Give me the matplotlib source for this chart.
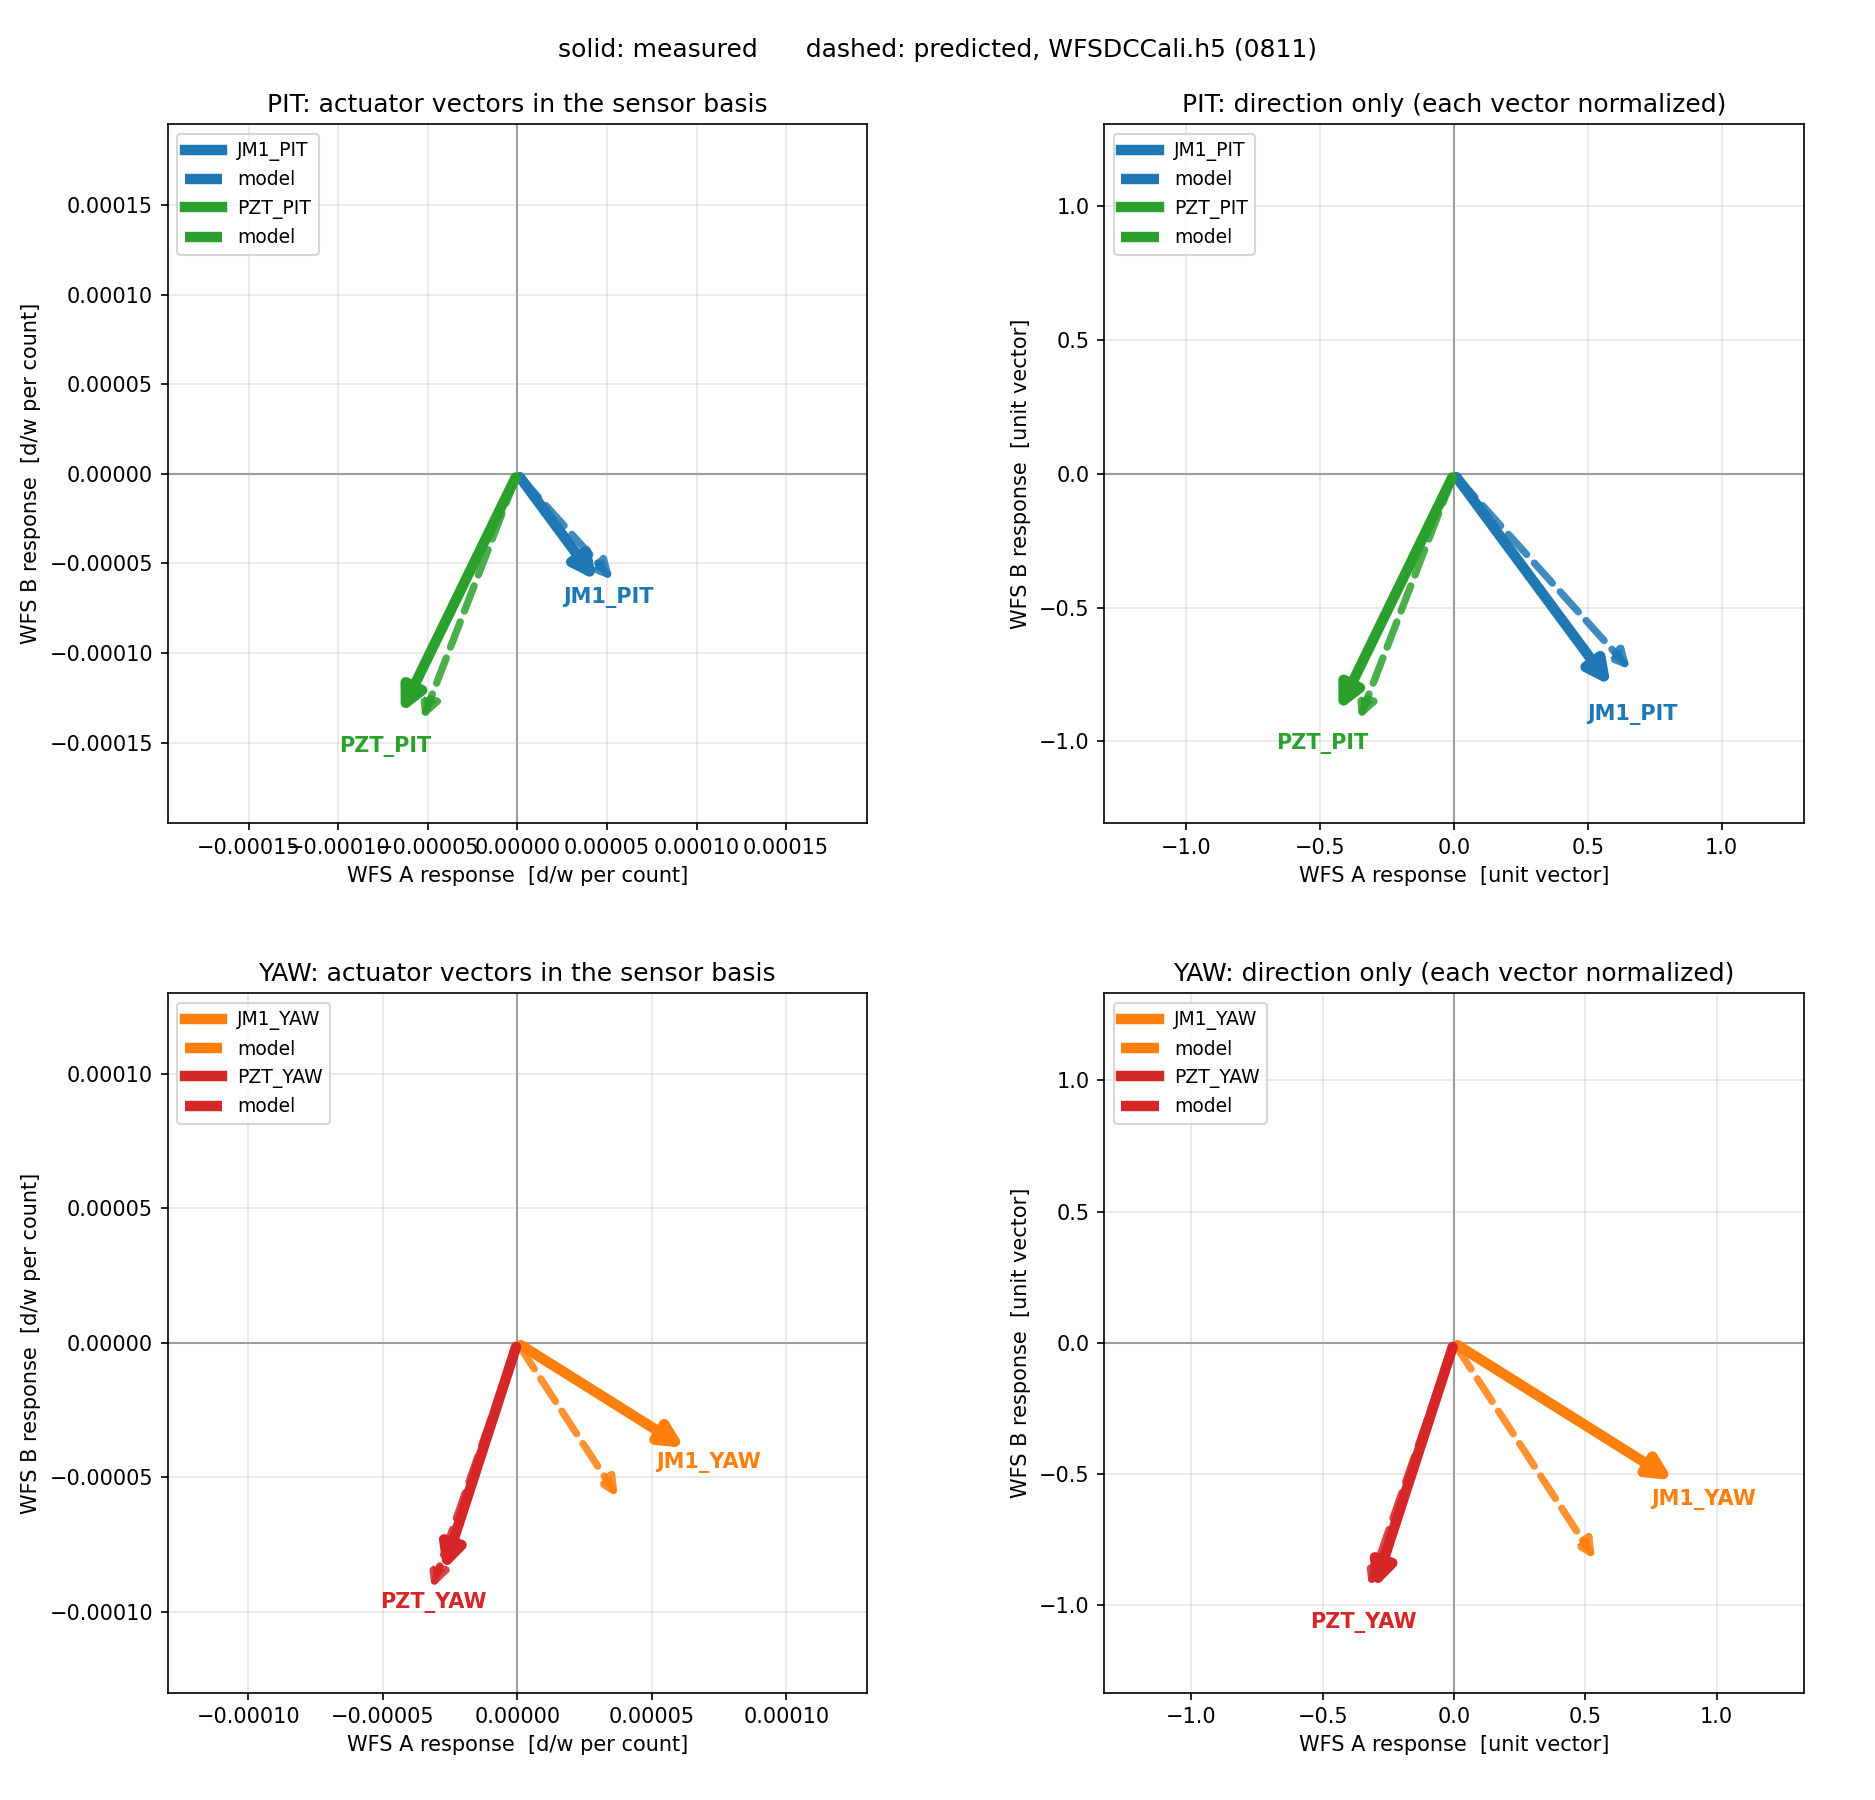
import numpy as np
import matplotlib
matplotlib.use("Agg")
import matplotlib.pyplot as plt
from matplotlib.lines import Line2D

# measured / predicted actuator responses in the WFS A, WFS B basis [d/w per count]
pit_names = ["JM1_PIT", "PZT_PIT"]
pit_colors = ["tab:blue", "tab:green"]
pit_meas_a = [4.55e-5, -6.61e-5]
pit_meas_b = [-6.15e-5, -1.357e-4]
pit_model_a = [5.50e-5, -5.38e-5]
pit_model_b = [-6.11e-5, -1.394e-4]

yaw_names = ["JM1_YAW", "PZT_YAW"]
yaw_colors = ["tab:orange", "tab:red"]
yaw_meas_a = [6.35e-5, -2.79e-5]
yaw_meas_b = [-3.98e-5, -8.61e-5]
yaw_model_a = [3.82e-5, -3.23e-5]
yaw_model_b = [-5.86e-5, -9.28e-5]

suptitle = "solid: measured      dashed: predicted, WFSDCCali.h5 (0811)"


def arrow(ax, x, y, color, dashed):
    if dashed:
        props = dict(arrowstyle="-|>", color=color, lw=3.5, ls="--",
                     mutation_scale=17, alpha=0.85)
    else:
        props = dict(arrowstyle="-|>", color=color, lw=5, ls="-",
                     mutation_scale=22)
    props["joinstyle"] = "round"
    props["capstyle"] = "round"
    ax.annotate("", xy=(x, y), xytext=(0, 0), arrowprops=props)


def panel(ax, names, colors, ma, mb, pa, pb, normalize, title, unit):
    ma, mb, pa, pb = map(np.asarray, (ma, mb, pa, pb))
    if normalize:
        nm = np.hypot(ma, mb)
        npd = np.hypot(pa, pb)
        ma, mb, pa, pb = ma/nm, mb/nm, pa/npd, pb/npd
    L = 1.4*np.max(np.abs(np.concatenate([ma, mb, pa, pb])))

    ax.axhline(0, color="0.6", lw=1, zorder=1)
    ax.axvline(0, color="0.6", lw=1, zorder=1)
    ax.grid(True, alpha=0.3)

    handles = []
    for i in range(len(names)):
        arrow(ax, ma[i], mb[i], colors[i], False)
        arrow(ax, pa[i], pb[i], colors[i], True)
        ax.text(1.12*ma[i], 1.12*mb[i], names[i], color=colors[i],
                fontsize=10, fontweight="bold", ha="center", va="center")
        handles.append(Line2D([], [], color=colors[i], lw=5, ls="-", label=names[i]))
        handles.append(Line2D([], [], color=colors[i], lw=5, ls="--", label="model"))
    ax.legend(handles=handles, loc="upper left", fontsize=9)

    ax.set_xlim(-L, L)
    ax.set_ylim(-L, L)
    ax.set_aspect("equal")
    ax.set_title(title)
    ax.set_xlabel("WFS A response  [%s]" % unit)
    ax.set_ylabel("WFS B response  [%s]" % unit)


fig, axs = plt.subplots(2, 2, figsize=(12.5, 12), dpi=150)
fig.subplots_adjust(left=0.0894, right=0.962, bottom=0.0597, top=0.931,
                    wspace=0.339, hspace=0.243)

panel(axs[0, 0], pit_names, pit_colors, pit_meas_a, pit_meas_b, pit_model_a, pit_model_b,
      False, "PIT: actuator vectors in the sensor basis", "d/w per count")
panel(axs[0, 1], pit_names, pit_colors, pit_meas_a, pit_meas_b, pit_model_a, pit_model_b,
      True, "PIT: direction only (each vector normalized)", "unit vector")
panel(axs[1, 0], yaw_names, yaw_colors, yaw_meas_a, yaw_meas_b, yaw_model_a, yaw_model_b,
      False, "YAW: actuator vectors in the sensor basis", "d/w per count")
panel(axs[1, 1], yaw_names, yaw_colors, yaw_meas_a, yaw_meas_b, yaw_model_a, yaw_model_b,
      True, "YAW: direction only (each vector normalized)", "unit vector")

fig.suptitle(suptitle, y=0.979, fontsize=12)
fig.savefig("out.png", dpi=150)
